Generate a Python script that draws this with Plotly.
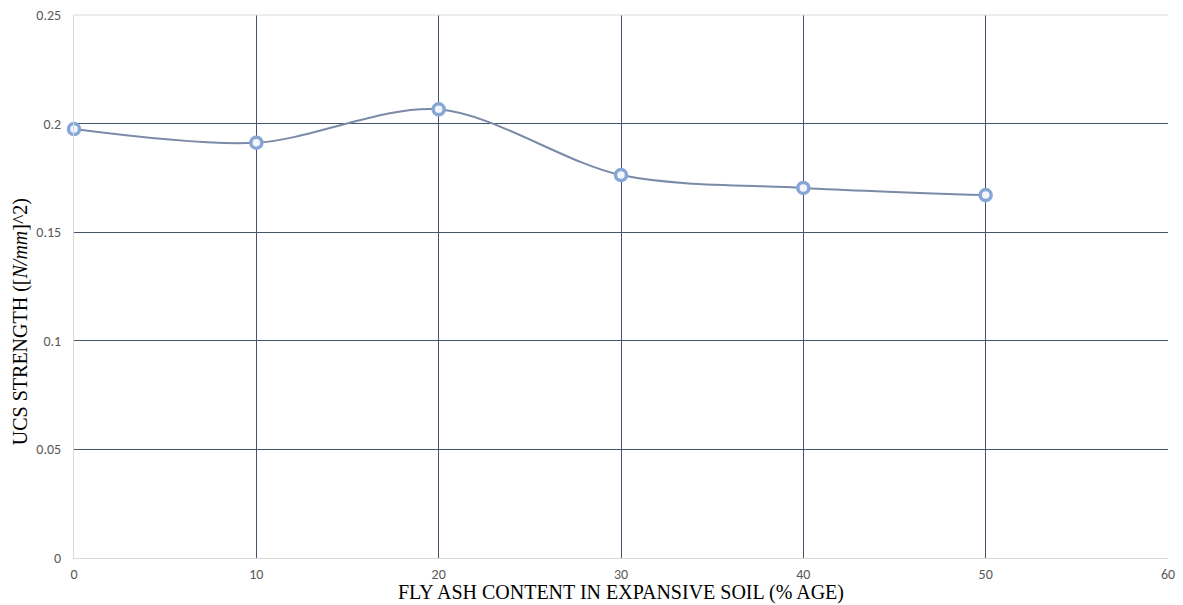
import plotly.graph_objects as go

fly_ash = [0, 10, 20, 30, 40, 50]
ucs = [0.1975, 0.1912, 0.2066, 0.1763, 0.1704, 0.1671]
x_ticks = [0, 10, 20, 30, 40, 50, 60]
y_ticks = [0, 0.05, 0.1, 0.15, 0.2, 0.25]
y_tick_labels = ["0", "0.05", "0.1", "0.15", "0.2", "0.25"]
x_title = "FLY ASH CONTENT IN EXPANSIVE SOIL (% AGE)"
y_title = "UCS STRENGTH ([<i>N/mm</i>]^2)"

fig = go.Figure()
fig.add_trace(go.Scatter(
    x=fly_ash, y=ucs, mode="lines+markers",
    line=dict(shape="spline", smoothing=0.9, color="#7b8aa6", width=2),
    marker=dict(symbol="circle", size=11, color="#f2f5fb",
                line=dict(color="#86a6d6", width=3.5)),
    showlegend=False, cliponaxis=False,
))

grid = "#44546a"
tickfont = dict(family="Carlito, Liberation Sans, Arial", size=14, color="#595959")
titlefont = dict(family="Liberation Serif, Times New Roman", size=20, color="#000000")
fig.update_layout(
    width=1183, height=605,
    margin=dict(l=74, r=15, t=15, b=47, autoexpand=False),
    paper_bgcolor="white", plot_bgcolor="white",
    xaxis=dict(range=[0, 60], tickvals=x_ticks, showgrid=True, gridcolor=grid, gridwidth=1,
               zeroline=False, showline=True, linecolor="#d9d9d9", linewidth=1, automargin=False,
               ticks="outside", ticklen=3, tickcolor="rgba(0,0,0,0)", tickfont=tickfont),
    yaxis=dict(range=[0, 0.25], tickvals=y_ticks, ticktext=y_tick_labels, showgrid=True,
               gridcolor=grid, gridwidth=1, zeroline=False, showline=True, linecolor="#d9d9d9",
               linewidth=1, ticks="outside", ticklen=9, tickcolor="rgba(0,0,0,0)", automargin=False,
               tickfont=tickfont),
    annotations=[
        dict(text=x_title, xref="paper", yref="paper", x=0.5, y=-0.064, showarrow=False,
             xanchor="center", yanchor="middle", font=titlefont),
        dict(text=y_title, xref="paper", yref="paper", x=-0.049, y=0.435, showarrow=False,
             textangle=-90, xanchor="center", yanchor="middle", font=titlefont),
    ],
)
fig.add_shape(type="line", xref="paper", yref="paper", x0=0, x1=1, y0=1, y1=1,
              line=dict(color="#d9d9d9", width=1), layer="above")
fig.write_html("out.html", config={"displayModeBar": False},
               post_script="document.body.style.margin='0';document.body.style.overflow='hidden';")
